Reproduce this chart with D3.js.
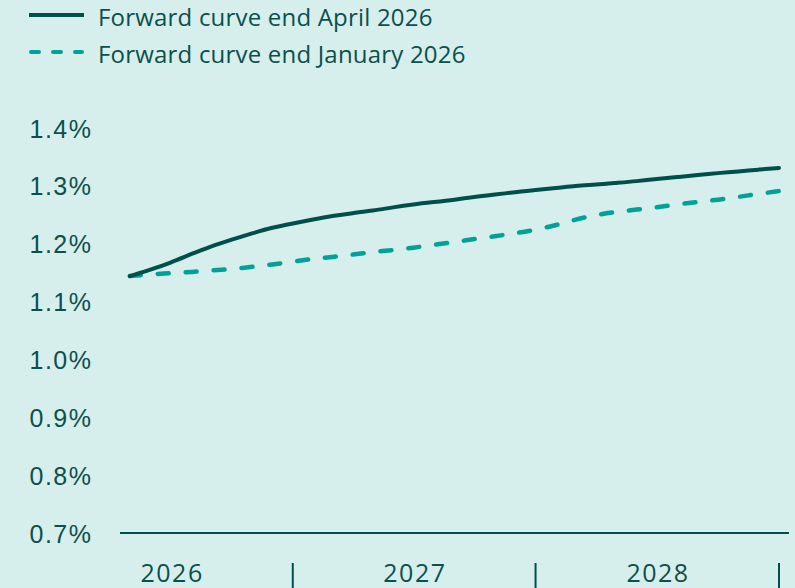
<!DOCTYPE html>
<html>
<head>
<meta charset="utf-8">
<script src="https://cdn.jsdelivr.net/npm/d3@7"></script>
<style>
  html, body { margin: 0; padding: 0; background: #d6efec; }
  svg { display: block; font-family: "Open Sans", sans-serif; }
  .txt { fill: #0c4f4b; }
</style>
</head>
<body>
<div id="viz"></div>
<script>
// month-end points of the forward curves
var months = [
    '2026-04', '2026-05', '2026-06', '2026-07', '2026-08', '2026-09', '2026-10', '2026-11', '2026-12',
    '2027-01', '2027-02', '2027-03', '2027-04', '2027-05', '2027-06', '2027-07', '2027-08', '2027-09',
    '2027-10', '2027-11', '2027-12', '2028-01', '2028-02', '2028-03', '2028-04', '2028-05', '2028-06',
    '2028-07', '2028-08', '2028-09', '2028-10', '2028-11', '2028-12'
];
var curveApril = [
    1.144, 1.155, 1.167, 1.182, 1.196, 1.207, 1.218, 1.228, 1.235,
    1.242, 1.248, 1.253, 1.257, 1.263, 1.268, 1.272, 1.276, 1.281,
    1.285, 1.289, 1.293, 1.296, 1.300, 1.302, 1.305, 1.308, 1.312,
    1.315, 1.319, 1.322, 1.325, 1.328, 1.331
];
var curveJanuary = [
    1.144, 1.147, 1.149, 1.151, 1.154, 1.156, 1.160, 1.164, 1.169,
    1.174, 1.177, 1.181, 1.186, 1.189, 1.193, 1.198, 1.203, 1.208,
    1.213, 1.218, 1.224, 1.232, 1.242, 1.250, 1.255, 1.259, 1.263,
    1.268, 1.272, 1.276, 1.281, 1.286, 1.291
];
var seriesNames = ['Forward curve end April 2026', 'Forward curve end January 2026'];
var years = ['2026', '2027', '2028'];
var yTicks = [0.7, 0.8, 0.9, 1.0, 1.1, 1.2, 1.3, 1.4];

var width = 795, height = 588;
var dark = '#004f4a', teal = '#00a196';

var svg = d3.select('#viz').append('svg').attr('width', width).attr('height', height);

var parseMonth = d3.timeParse('%Y-%m');
// month-end date
var monthEnd = function(m) { return d3.timeMonth.offset(parseMonth(m), 1); };

var x = d3.scaleTime()
    .domain([new Date(2026, 0, 1), new Date(2029, 0, 1)])
    .range([50, 779]);
var y = d3.scaleLinear().domain([0.7, 1.4]).range([533, 128]);

// y axis labels
var yAxis = d3.axisLeft(y).tickValues(yTicks).tickSize(0).tickPadding(0)
    .tickFormat(function(d) { return d3.format('.1f')(d) + '%'; });
var gy = svg.append('g').attr('transform', 'translate(92.5,0)').call(yAxis);
gy.select('.domain').remove();
gy.selectAll('text').attr('class', 'txt').attr('fill', null)
    .style('font-size', '25px').style('letter-spacing', '1.5px').attr('dy', '0.36em');

// baseline
svg.append('line')
    .attr('x1', 120).attr('x2', 789)
    .attr('y1', y(0.7)).attr('y2', y(0.7))
    .attr('stroke', dark).attr('stroke-width', 2);

// year separators and labels
svg.selectAll('.sep').data(years).enter().append('line').attr('class', 'sep')
    .attr('x1', d => x(new Date(+d + 1, 0, 1))).attr('x2', d => x(new Date(+d + 1, 0, 1)))
    .attr('y1', 563).attr('y2', 588)
    .attr('stroke', dark).attr('stroke-width', 2);
svg.selectAll('.yr').data(years).enter().append('text').attr('class', 'yr txt')
    .attr('x', d => (x(new Date(+d, 0, 1)) + x(new Date(+d + 1, 0, 1))) / 2 + 0.75)
    .attr('y', 582)
    .attr('text-anchor', 'middle')
    .style('font-size', '25px').style('letter-spacing', '1.5px')
    .text(d => d);

// lines
var line = d3.line()
    .x(d => x(d.date))
    .y(d => y(d.value))
    .curve(d3.curveBasis);

var dataJan = months.map((m, i) => ({ date: monthEnd(m), value: curveJanuary[i] }));
var dataApr = months.map((m, i) => ({ date: monthEnd(m), value: curveApril[i] }));

svg.append('path').datum(dataJan)
    .attr('d', line)
    .attr('fill', 'none').attr('stroke', teal).attr('stroke-width', 4.5)
    .attr('stroke-linecap', 'round').attr('stroke-dasharray', '11,17');

svg.append('path').datum(dataApr)
    .attr('d', line)
    .attr('fill', 'none').attr('stroke', dark).attr('stroke-width', 4)
    .attr('stroke-linecap', 'round');

// legend
var legend = svg.append('g');
var items = [
    { name: seriesNames[0], color: dark, dash: null, y: 15 },
    { name: seriesNames[1], color: teal, dash: '8,14', y: 52 }
];
items.forEach(function(it) {
    legend.append('line')
        .attr('x1', it.dash ? 31 : 29).attr('x2', it.dash ? 82 : 84)
        .attr('y1', it.y).attr('y2', it.y)
        .attr('stroke', it.color).attr('stroke-width', 4)
        .attr('stroke-linecap', it.dash ? 'round' : 'butt')
        .attr('stroke-dasharray', it.dash);
    legend.append('text').attr('class', 'txt')
        .attr('x', 98).attr('y', it.y + 11)
        .style('font-size', '24px').style('letter-spacing', '0.2px')
        .text(it.name);
});
</script>
</body>
</html>
